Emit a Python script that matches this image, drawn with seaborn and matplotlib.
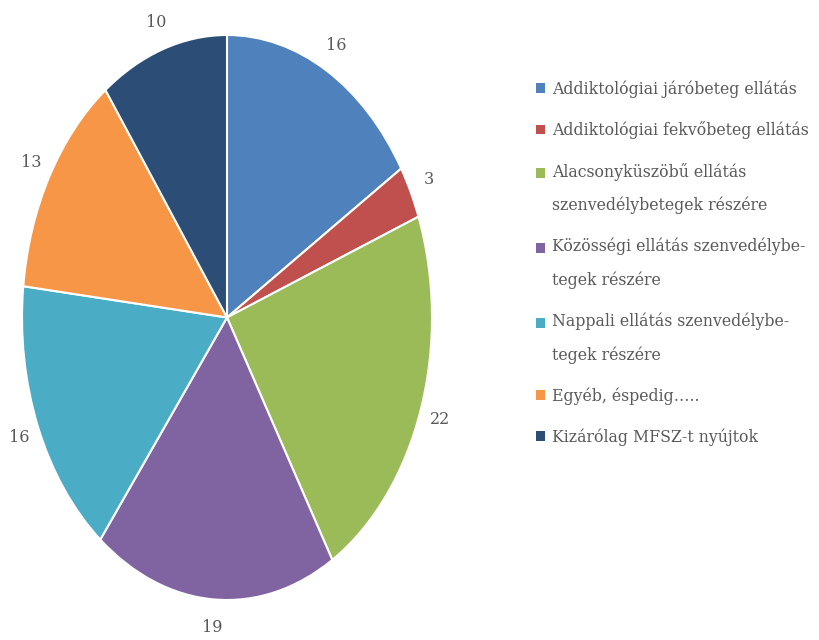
import matplotlib
matplotlib.use("Agg")
import matplotlib.pyplot as plt
import matplotlib.patches as mpatches
from matplotlib.legend_handler import HandlerPatch
import seaborn as sns

categories = [
    "Addiktológiai járóbeteg ellátás",
    "Addiktológiai fekvőbeteg ellátás",
    "Alacsonyküszöbű ellátás\nszenvedélybetegek részére",
    "Közösségi ellátás szenvedélybe-\ntegek részére",
    "Nappali ellátás szenvedélybe-\ntegek részére",
    "Egyéb, éspedig…..",
    "Kizárólag MFSZ-t nyújtok",
]
values = [16, 3, 22, 19, 16, 13, 10]
colors = ["#4F81BD", "#C0504D", "#9BBB59", "#8064A2", "#4BACC6", "#F79646", "#2C4D75"]

sns.set_theme(style="white")
plt.rcParams["font.family"] = ["DejaVu Serif"]
text_color = "#595959"

fig = plt.figure(figsize=(8.19, 6.4), dpi=100)
ax = fig.add_axes([22 / 819, 1 - 600 / 640, 410 / 819, 565 / 640])
wedges, texts = ax.pie(
    values,
    labels=[str(v) for v in values],
    colors=colors,
    startangle=90,
    counterclock=False,
    labeldistance=1.1,
    wedgeprops=dict(edgecolor="white", linewidth=1.5),
    textprops=dict(color=text_color, fontsize=11.5),
)
ax.set_aspect("auto")
ax.set_xlim(-1, 1)
ax.set_ylim(-1, 1)
for t in texts:
    t.set_ha("center")
    t.set_va("center")
    t.set_clip_on(False)


class TopSquare(HandlerPatch):
    def __init__(self, shift=0.0):
        super().__init__()
        self.shift = shift

    def create_artists(self, legend, orig_handle, xdescent, ydescent,
                       width, height, fontsize, trans):
        p = mpatches.Rectangle((-xdescent, -ydescent + self.shift), width, height,
                               facecolor=orig_handle.get_facecolor(),
                               edgecolor="none", transform=trans)
        return [p]


handles = [mpatches.Patch(facecolor=c, edgecolor="none") for c in colors]
handler_map = {h: TopSquare(11.9 if "\n" in lab else 0.0)
               for h, lab in zip(handles, categories)}
leg = fig.legend(
    handles,
    categories,
    handler_map=handler_map,
    loc="upper left",
    bbox_to_anchor=(536 / 819, 1 - 80 / 640),
    frameon=False,
    fontsize=11.3,
    handlelength=0.6,
    handleheight=0.6,
    handletextpad=0.42,
    labelspacing=1.5,
    labelcolor=text_color,
    borderpad=0,
    borderaxespad=0,
)
for t in leg.get_texts():
    t.set_linespacing(2.2)

fig.savefig("out.png", dpi=100, facecolor="white")
